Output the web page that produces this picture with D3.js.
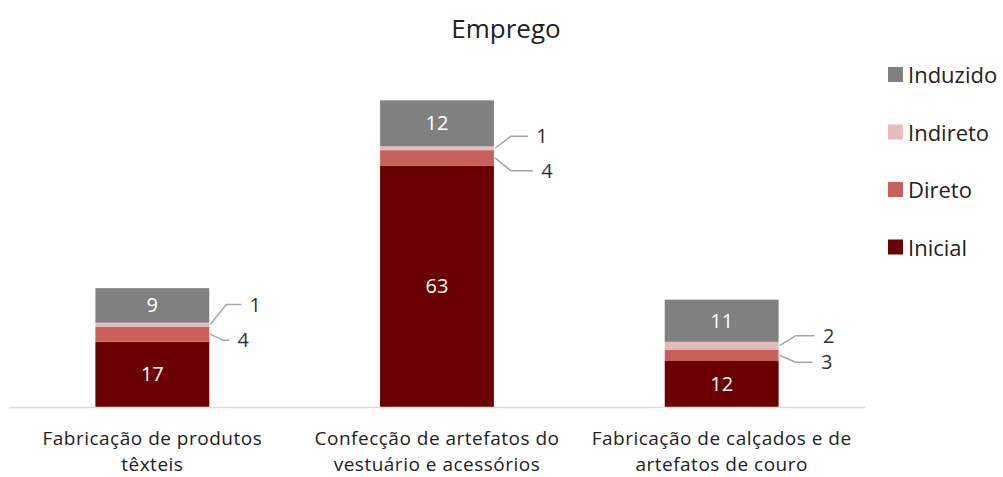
<!DOCTYPE html>
<html><head><meta charset="utf-8">
<script src="https://cdn.jsdelivr.net/npm/d3@7"></script>
<style>body{margin:0;background:#fff}svg{display:block}text{font-family:"Open Sans","Noto Sans",sans-serif}</style>
</head><body><svg id="c" width="1003" height="477"></svg>
<script>
const categories = [["Fabricação de produtos","têxteis"],["Confecção de artefatos do","vestuário e acessórios"],["Fabricação de calçados e de","artefatos de couro"]];
const seriesNames = ["Inicial","Direto","Indireto","Induzido"];
const inicial = [17, 63, 12];
const direto = [4, 4, 3];
const indireto = [1, 1, 2];
const induzido = [9, 12, 11];
const colors = ["#6a0000","#c8615c","#e6bcbb","#808080"];
// layout tweaks for callout labels (pixel offsets: [dx, dy] relative to bar right edge / segment middle)
const calloutIndireto = [[46,-20],[48,-12],[50,-10]];
const calloutDireto = [[34,6],[53,13],[48,7]];

const values = [inicial, direto, indireto, induzido];
const svg = d3.select("#c");
const x = d3.scaleBand().domain(d3.range(categories.length)).range([10,864]).paddingInner(0.6).paddingOuter(0.3);
const y = d3.scaleLinear().domain([0,90]).range([407,62]);

const data = categories.map((c,i)=>{const o={i};seriesNames.forEach((s,k)=>o[s]=values[k][i]);return o;});
const stack = d3.stack().keys(seriesNames)(data);

svg.append("text").attr("x",506).attr("y",38).attr("text-anchor","middle").attr("font-size",26).attr("fill","#222").text("Emprego");

stack.forEach((layer,k)=>{
  svg.append("g").selectAll("rect").data(layer).join("rect")
    .attr("x",d=>x(d.data.i)).attr("width",x.bandwidth())
    .attr("y",d=>y(d[1])).attr("height",d=>y(d[0])-y(d[1]))
    .attr("fill",colors[k]);
});

// axis line
svg.append("line").attr("x1",10).attr("x2",865).attr("y1",y(0)+0.5).attr("y2",y(0)+0.5).attr("stroke","#d9d9d9").attr("stroke-width",1.5);

// inside labels
[0,3].forEach(k=>{
  svg.append("g").selectAll("text").data(stack[k]).join("text")
    .attr("x",d=>x(d.data.i)+x.bandwidth()/2).attr("y",d=>(y(d[0])+y(d[1]))/2+7)
    .attr("text-anchor","middle").attr("font-size",20).attr("fill","#fff")
    .text(d=>d[1]-d[0]);
});

// callouts
function callouts(k, offs){
  stack[k].forEach((d,i)=>{
    const xr = x(d.data.i)+x.bandwidth();
    const ym = (y(d[0])+y(d[1]))/2;
    const [dx,dy] = offs[i];
    const ly = ym+dy;
    const bendX = xr+ Math.min(17, dx-20);
    svg.append("polyline").attr("points",`${xr+1},${ym} ${bendX},${ly} ${xr+dx-14},${ly}`)
      .attr("fill","none").attr("stroke","#a6a6a6").attr("stroke-width",1.5);
    svg.append("text").attr("x",xr+dx).attr("y",ly+7).attr("text-anchor","middle").attr("font-size",20).attr("fill","#333").text(d[1]-d[0]);
  });
}
callouts(2, calloutIndireto);
callouts(1, calloutDireto);

// category labels
categories.forEach((c,i)=>{
  c.forEach((line,j)=>svg.append("text").attr("x",x(i)+x.bandwidth()/2).attr("y",445+j*26)
    .attr("text-anchor","middle").attr("font-size",19).attr("letter-spacing",0.5).attr("fill","#222").text(line));
});

// legend
const legendOrder = ["Induzido","Indireto","Direto","Inicial"];
legendOrder.forEach((s,j)=>{
  const k = seriesNames.indexOf(s);
  const yy = 75 + j*57.5;
  svg.append("rect").attr("x",888).attr("y",yy-8).attr("width",15).attr("height",15).attr("fill",colors[k]);
  svg.append("text").attr("x",908).attr("y",yy+8).attr("font-size",22).attr("fill","#222").text(s);
});
</script></body></html>
